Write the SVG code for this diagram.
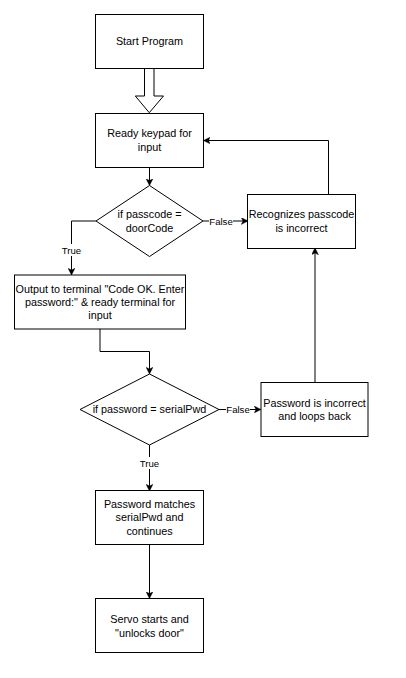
<svg xmlns="http://www.w3.org/2000/svg" width="406" height="678" viewBox="0 0 406 678">
<style>
.box{fill:#fff;stroke:#000;stroke-width:1}
.t{font-family:"Liberation Sans",Arial,sans-serif;font-size:10.8px;fill:#000;text-anchor:middle}
.lbl{font-family:"Liberation Sans",Arial,sans-serif;font-size:9.6px;fill:#000;text-anchor:middle}
.lb{fill:#fff}
.c{fill:none;stroke:#000;stroke-width:1}
</style>
<defs>
<marker id="ah" viewBox="0 0 10 10" refX="9" refY="5" markerWidth="7" markerHeight="7" markerUnits="userSpaceOnUse" orient="auto">
<path d="M0,0 L10,5 L0,10 L2.5,5 Z" fill="#000" stroke="#000" stroke-width="0.5"/>
</marker>
</defs>
<rect width="406" height="678" fill="#fff"/>
<g id="connectors">
<polygon points="144.5,68.5 154,68.5 154,96 163.5,96 149.25,112.7 135.3,96 144.5,96" fill="#fff" stroke="#000" stroke-width="1"/>
<path class="c" d="M149.5,167.5 L149.5,185" marker-end="url(#ah)"/>
<path class="c" d="M203,221 L247.5,221" marker-end="url(#ah)"/>
<path class="c" d="M328.5,194.5 L328.5,140.5 L204,140.5" marker-end="url(#ah)"/>
<path class="c" d="M96,221 L71.5,221 L71.5,274.5" marker-end="url(#ah)"/>
<path class="c" d="M100,329 L100,351.5 L149.5,351.5 L149.5,373.5" marker-end="url(#ah)"/>
<path class="c" d="M219,409.5 L260.5,409.5" marker-end="url(#ah)"/>
<path class="c" d="M315,382.5 L315,248.5" marker-end="url(#ah)"/>
<path class="c" d="M149.5,445 L149.5,490.5" marker-end="url(#ah)"/>
<path class="c" d="M149.5,544.5 L149.5,598" marker-end="url(#ah)"/>
<rect class="lb" x="209" y="215" width="24" height="12"/>
<text class="lbl" x="221" y="224.5">False</text>
<rect class="lb" x="59" y="244" width="25" height="12"/>
<text class="lbl" x="71.5" y="253.5">True</text>
<rect class="lb" x="226" y="403.5" width="24" height="12"/>
<text class="lbl" x="238" y="413">False</text>
<rect class="lb" x="137" y="457" width="25" height="12"/>
<text class="lbl" x="149.5" y="466.5">True</text>
</g>
<g id="start">
<rect class="box" x="95.5" y="14.5" width="108" height="54"/>
<text class="t" x="149.5" y="45.3">Start Program</text>
</g>
<g id="ready">
<rect class="box" x="95.5" y="113.5" width="108" height="54"/>
<text class="t" x="149.5" y="137.3">Ready keypad for</text>
<text class="t" x="149.5" y="150.7">input</text>
</g>
<g id="check-passcode">
<polygon class="box" points="149.5,185.5 203,221 149.5,256.5 96,221"/>
<text class="t" x="149.5" y="218">if passcode =</text>
<text class="t" x="149.5" y="231.5">doorCode</text>
</g>
<g id="passcode-wrong">
<rect class="box" x="247.5" y="194.5" width="108" height="54"/>
<text class="t" x="301.5" y="218.3">Recognizes passcode</text>
<text class="t" x="301.5" y="232">is incorrect</text>
</g>
<g id="output-terminal">
<rect class="box" x="14.5" y="275" width="171" height="54"/>
<text class="t" x="100" y="293.3">Output to terminal "Code OK. Enter</text>
<text class="t" x="100" y="305.7">password:" &amp; ready terminal for</text>
<text class="t" x="100" y="318.7">input</text>
</g>
<g id="check-password">
<polygon class="box" points="149.5,374 219,409.5 149.5,445 80,409.5"/>
<text class="t" x="149.5" y="413.3">if password = serialPwd</text>
</g>
<g id="password-wrong">
<rect class="box" x="261" y="382.5" width="107" height="54"/>
<text class="t" x="314.5" y="407.3">Password is incorrect</text>
<text class="t" x="314.5" y="420">and loops back</text>
</g>
<g id="password-ok">
<rect class="box" x="95.5" y="490.5" width="108" height="54"/>
<text class="t" x="149.5" y="508.3">Password matches</text>
<text class="t" x="149.5" y="521.3">serialPwd and</text>
<text class="t" x="149.5" y="534.7">continues</text>
</g>
<g id="servo">
<rect class="box" x="95.5" y="598.5" width="108" height="54"/>
<text class="t" x="149.5" y="622.7">Servo starts and</text>
<text class="t" x="149.5" y="636.7">"unlocks door"</text>
</g>
</svg>
